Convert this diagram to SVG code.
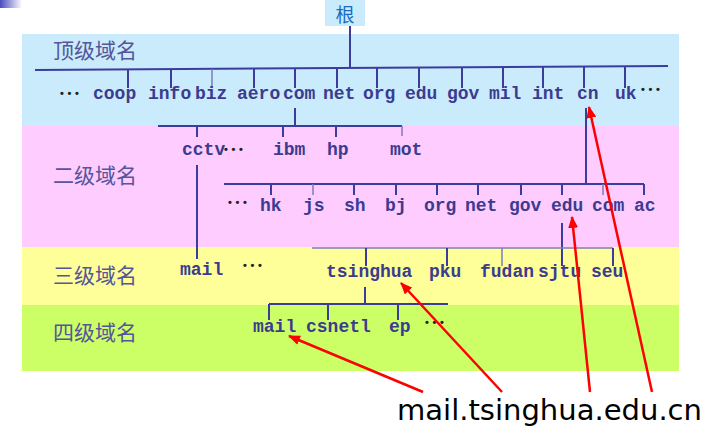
<svg xmlns="http://www.w3.org/2000/svg" width="717" height="432" viewBox="0 0 717 432">
<style>
.band{stroke:none}
.lbl{font-family:"Liberation Mono","Courier New",monospace;font-weight:bold;font-size:18px;fill:#3b3b8f}
.lvl{font-family:"Noto Sans CJK SC","Noto Sans",sans-serif;font-size:21px;fill:#55559a}
.dots{font-family:"Liberation Sans",Arial,sans-serif;font-weight:bold;font-size:11px;fill:#222;letter-spacing:3.6px}
.ln{stroke:#3c3c9c;stroke-width:2;fill:none}
.thin{stroke:#7c7cb8;stroke-width:1.5;fill:none}
.red{stroke:#ff0000;stroke-width:2.5;fill:none;marker-end:url(#ah)}
</style>
<defs>
<linearGradient id="corner" x1="0" y1="0" x2="1" y2="0">
<stop offset="0" stop-color="#4a4ac0"/>
<stop offset="1" stop-color="#ffffff"/>
</linearGradient>
<marker id="ah" markerUnits="userSpaceOnUse" markerWidth="12" markerHeight="10" refX="11" refY="5" orient="auto">
<path d="M0,0 L12,5 L0,10 z" fill="#ff0000"/>
</marker>
</defs>
<rect x="0" y="0" width="717" height="432" fill="#ffffff"/>
<rect x="0" y="0" width="22" height="8" fill="url(#corner)"/>
<g id="bands">
<rect class="band" x="22" y="34" width="657" height="92" fill="#c9ebfc"/>
<rect class="band" x="22" y="126" width="657" height="121" fill="#ffccff"/>
<rect class="band" x="22" y="247" width="657" height="58" fill="#ffff99"/>
<rect class="band" x="22" y="305" width="657" height="66" fill="#ccff66"/>
</g>
<g id="levels">
<text class="lvl" x="53" y="58">顶级域名</text>
<text class="lvl" x="53" y="183">二级域名</text>
<text class="lvl" x="53" y="283">三级域名</text>
<text class="lvl" x="53" y="340">四级域名</text>
</g>
<g id="connectors">
<line class="ln" x1="350" y1="25" x2="350" y2="68"/>
<line class="ln" x1="35" y1="70" x2="668" y2="66"/>
<line class="ln" x1="128" y1="69" x2="128" y2="88"/>
<line class="ln" x1="171" y1="69" x2="171" y2="88"/>
<line class="thin" x1="212" y1="69" x2="212" y2="88"/>
<line class="ln" x1="254" y1="69" x2="254" y2="88"/>
<line class="ln" x1="295" y1="69" x2="295" y2="88"/>
<line class="ln" x1="337" y1="68" x2="337" y2="88"/>
<line class="ln" x1="377" y1="68" x2="377" y2="88"/>
<line class="ln" x1="419" y1="68" x2="419" y2="88"/>
<line class="ln" x1="462" y1="67" x2="462" y2="88"/>
<line class="ln" x1="503" y1="67" x2="503" y2="88"/>
<line class="ln" x1="543" y1="67" x2="543" y2="88"/>
<line class="ln" x1="584" y1="67" x2="584" y2="88"/>
<line class="ln" x1="625" y1="66" x2="625" y2="88"/>
<line class="ln" x1="295" y1="108" x2="295" y2="126"/>
<line class="ln" x1="158" y1="126" x2="402" y2="126"/>
<line class="ln" x1="197" y1="126" x2="197" y2="137"/>
<line class="ln" x1="283" y1="126" x2="283" y2="137"/>
<line class="ln" x1="336" y1="126" x2="336" y2="137"/>
<line class="thin" x1="402" y1="126" x2="402" y2="136"/>
<line class="ln" x1="197" y1="165" x2="197" y2="259"/>
<line class="ln" x1="586" y1="108" x2="586" y2="184"/>
<line class="ln" x1="224" y1="184" x2="644" y2="184"/>
<line class="ln" x1="271" y1="184" x2="271" y2="195"/>
<line class="thin" x1="313" y1="184" x2="313" y2="195"/>
<line class="ln" x1="354" y1="184" x2="354" y2="195"/>
<line class="ln" x1="396" y1="184" x2="396" y2="195"/>
<line class="ln" x1="437" y1="184" x2="437" y2="195"/>
<line class="ln" x1="478" y1="184" x2="478" y2="195"/>
<line class="ln" x1="521" y1="184" x2="521" y2="195"/>
<line class="ln" x1="562" y1="184" x2="562" y2="195"/>
<line class="thin" x1="603" y1="184" x2="603" y2="195"/>
<line class="ln" x1="644" y1="184" x2="644" y2="195"/>
<line class="ln" x1="562" y1="223" x2="562" y2="266"/>
<line class="thin" x1="312" y1="248" x2="613" y2="248"/>
<line class="ln" x1="366" y1="248" x2="366" y2="266"/>
<line class="ln" x1="447" y1="248" x2="447" y2="266"/>
<line class="thin" x1="502" y1="248" x2="502" y2="266"/>
<line class="ln" x1="613" y1="248" x2="613" y2="266"/>
<line class="ln" x1="365" y1="287" x2="365" y2="304"/>
<line class="ln" x1="269" y1="304" x2="448" y2="304"/>
<line class="ln" x1="269" y1="304" x2="269" y2="320"/>
<line class="ln" x1="328" y1="304" x2="328" y2="320"/>
<line class="ln" x1="398" y1="304" x2="398" y2="320"/>
</g>
<g id="root">
<rect x="325" y="0" width="40" height="26" fill="#c9ebfc"/>
<text x="345" y="22" text-anchor="middle" font-family="Noto Sans CJK SC,sans-serif" font-size="19" fill="#1a6cc0">根</text>
</g>
<g id="tld">
<text class="dots" x="60" y="97">•••</text>
<text class="lbl" x="93" y="99">coop</text>
<text class="lbl" x="148" y="99">info</text>
<text class="lbl" x="195" y="99">biz</text>
<text class="lbl" x="237" y="99">aero</text>
<text class="lbl" x="283" y="99">com</text>
<text class="lbl" x="323" y="99">net</text>
<text class="lbl" x="363" y="99">org</text>
<text class="lbl" x="405" y="99">edu</text>
<text class="lbl" x="447" y="99">gov</text>
<text class="lbl" x="489" y="99">mil</text>
<text class="lbl" x="532" y="99">int</text>
<text class="lbl" x="577" y="99">cn</text>
<text class="lbl" x="615" y="99">uk</text>
<text class="dots" x="641" y="93">•••</text>
</g>
<g id="sld-com">
<text class="lbl" x="182" y="155">cctv</text>
<text class="dots" x="224" y="153">•••</text>
<text class="lbl" x="273" y="155">ibm</text>
<text class="lbl" x="327" y="155">hp</text>
<text class="lbl" x="390" y="155">mot</text>
</g>
<g id="sld-cn">
<text class="dots" x="228" y="206">•••</text>
<text class="lbl" x="260" y="211">hk</text>
<text class="lbl" x="303" y="211">js</text>
<text class="lbl" x="344" y="211">sh</text>
<text class="lbl" x="385" y="211">bj</text>
<text class="lbl" x="424" y="211">org</text>
<text class="lbl" x="465" y="211">net</text>
<text class="lbl" x="509" y="211">gov</text>
<text class="lbl" x="551" y="211">edu</text>
<text class="lbl" x="592" y="211">com</text>
<text class="lbl" x="634" y="211">ac</text>
</g>
<g id="third">
<text class="lbl" x="180" y="275">mail</text>
<text class="dots" x="243" y="269">•••</text>
<text class="lbl" x="326" y="277">tsinghua</text>
<text class="lbl" x="429" y="277">pku</text>
<text class="lbl" x="480" y="277">fudan</text>
<text class="lbl" x="538" y="277">sjtu</text>
<text class="lbl" x="591" y="277">seu</text>
</g>
<g id="fourth">
<text class="lbl" x="253" y="332">mail</text>
<text class="lbl" x="306" y="332">csnetl</text>
<text class="lbl" x="389" y="332">ep</text>
<text class="dots" x="425" y="326">•••</text>
</g>
<g id="arrows">
<line class="red" x1="423" y1="392" x2="289" y2="336"/>
<line class="red" x1="502" y1="392" x2="401" y2="283"/>
<line class="red" x1="590" y1="392" x2="572" y2="217"/>
<line class="red" x1="652" y1="392" x2="589" y2="107"/>
</g>
<g id="fqdn">
<text x="397" y="420" font-family="DejaVu Sans,sans-serif" font-size="28" fill="#000" textLength="305" lengthAdjust="spacingAndGlyphs">mail.tsinghua.edu.cn</text>
</g>
</svg>
